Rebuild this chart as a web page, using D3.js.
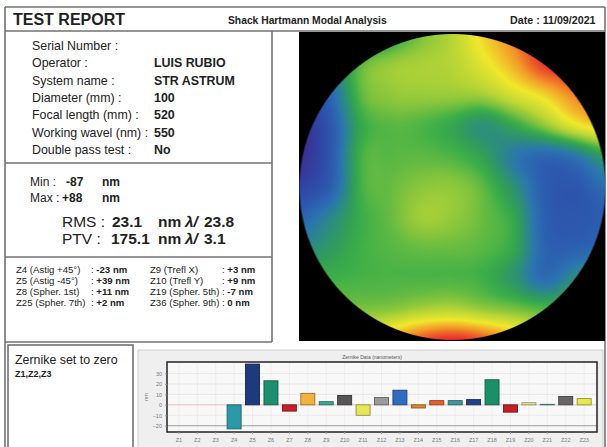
<!DOCTYPE html>
<html>
<head>
<meta charset="utf-8">
<script src="https://cdn.jsdelivr.net/npm/d3@7"></script>
<style>
body{margin:0;background:#fff;}
svg{display:block;font-family:"Liberation Sans",Arial,sans-serif;}
</style>
</head>
<body>
<script>
var W = 607, H = 447;

// report header + fields
var reportTitle = "TEST REPORT";
var reportSub = "Shack Hartmann Modal Analysis";
var reportDate = "Date : 11/09/2021";
var infoLabels = ["Serial Number :", "Operator :", "System name :", "Diameter (mm) :", "Focal length (mm) :", "Working wavel (nm) :", "Double pass test :"];
var infoValues = ["", "LUIS RUBIO", "STR ASTRUM", "100", "520", "550", "No"];

var minMax = [["Min :", "-87"], ["Max :", "+88"]];
var rmsPtv = [["RMS :", "23.1", "23.8"], ["PTV :", "175.1", "3.1"]];

var zLeft = [["Z4 (Astig +45°)", "-23 nm"], ["Z5 (Astig -45°)", "+39 nm"], ["Z8  (Spher. 1st)", "+11 nm"], ["Z25 (Spher. 7th)", "+2 nm"]];
var zRight = [["Z9  (Trefl X)", "+3 nm"], ["Z10 (Trefl Y)", "+9 nm"], ["Z19 (Spher. 5th)", "-7 nm"], ["Z36 (Spher. 9th)", "0 nm"]];
var zeroSet = "Z1,Z2,Z3";

// zernike bar chart
var zTerms = ["Z1","Z2","Z3","Z4","Z5","Z6","Z7","Z8","Z9","Z10","Z11","Z12","Z13","Z14","Z15","Z16","Z17","Z18","Z19","Z20","Z21","Z22","Z23"];
var zValues = [0, 0, 0, -23, 39, 23, -6, 11, 3, 9, -10, 7, 14, -3, 4, 4, 5, 24, -7, 2, 0.5, 8, 6];
var zColors = ["#d04040","#d04040","#d04040","#2c9aa6","#1d3a7c","#1e8f6e","#c8202a","#f2b33e","#3aa898","#555555","#e6e65a",
               "#9a9a9a","#2f6cc0","#e0892a","#e8602a","#3a9aa0","#23408a","#1a9068","#c42028","#ececa0","#5abab0","#666666","#e8e850"];
var yTicks = [-20, -10, 0, 10, 20, 30];

// wavefront map (nm), rows top->bottom, cols left->right across the pupil
var mapGrid = [
  [-60, -50, -30, -10,  12,  25,  50,  70,  88,  88,  80],
  [-70, -35,   5,  18,  22,  25,  40,  60,  85,  88,  85],
  [-80, -45,   5,  16,  18,  18,  20,  35,  50,  70,  80],
  [-85, -55,  -5,   5,   3,  -5, -18,  -5,  15,  40,  55],
  [-85, -55,   0,   5,   6,   3,  -8, -32, -45, -35, -10],
  [-70, -50,   0,   8,  15,  16,   6, -18, -50, -55, -40],
  [-45, -25,  -2,   8,  20,  17,   8,  -5, -48, -55, -50],
  [-25, -12,   0,   5,   8,   8,   5,  -5, -45, -48, -40],
  [  0,   0,   2,   3,   3,   3,   0, -15, -40, -20,   0],
  [  5,  10,  12,  15,  22,  25,  18,  12,   5,   5,   5],
  [ 20,  30,  40,  60,  80,  88,  80,  60,  30,  10,   5]
];
var mapStops = [-87, -65, -50, -35, -20, -8, 0, 12, 25, 45, 65, 88];
var mapColors = ["#3b2d8f","#2e4aa8","#2c5db0","#2b75b0","#2c8e7c","#33a055","#3daf48","#7dc23e","#b8d535","#f0e82c","#f29a28","#e82a2a"];

var svg = d3.select("body").append("svg")
    .attr("width", W)
    .attr("height", H);

var line = "#727272";

// ---------- frame ----------
var frame = svg.append("g")
    .attr("stroke", line)
    .attr("stroke-width", 1.6)
    .attr("fill", "none");
frame.append("line").attr("x1", 5).attr("y1", 7).attr("x2", 605).attr("y2", 7);
frame.append("line").attr("x1", 5).attr("y1", 7).attr("x2", 5).attr("y2", H);
frame.append("line").attr("x1", 605).attr("y1", 7).attr("x2", 605).attr("y2", H);
frame.append("line").attr("x1", 5).attr("y1", 31).attr("x2", 605).attr("y2", 31);
frame.append("line").attr("x1", 272).attr("y1", 31).attr("x2", 272).attr("y2", 342);
[163, 257, 342].forEach(function(yy){
    frame.append("line").attr("x1", 5).attr("y1", yy).attr("x2", 272).attr("y2", yy);
});
frame.append("rect").attr("x", 8).attr("y", 345).attr("width", 125).attr("height", 110);

// ---------- header ----------
svg.append("text").attr("x", 13).attr("y", 25)
    .style("font-size", "16px").style("font-weight", "bold").attr("fill", "#222")
    .text(reportTitle);
svg.append("text").attr("x", 228).attr("y", 24)
    .style("font-size", "10.3px").style("font-weight", "bold").attr("fill", "#222")
    .text(reportSub);
svg.append("text").attr("x", 510).attr("y", 24)
    .style("font-size", "10.7px").style("font-weight", "bold").attr("fill", "#222")
    .text(reportDate);

// ---------- info panel ----------
var info = svg.append("g").attr("fill", "#222").style("font-size", "12.4px");
info.selectAll("text.lab")
    .data(infoLabels)
    .enter()
    .append("text")
    .attr("class", "lab")
    .attr("x", 32)
    .attr("y", function(d, i){ return 50 + i * 17.3; })
    .text(function(d){ return d; });
info.selectAll("text.val")
    .data(infoValues)
    .enter()
    .append("text")
    .attr("class", "val")
    .attr("x", 154)
    .attr("y", function(d, i){ return 50 + i * 17.3; })
    .style("font-weight", "bold")
    .text(function(d){ return d; });

// ---------- min / max ----------
var mm = svg.append("g").attr("fill", "#222").style("font-size", "12px");
minMax.forEach(function(d, i){
    var yy = 186 + i * 16;
    mm.append("text").attr("x", 30).attr("y", yy).text(d[0]);
    mm.append("text").attr("x", i == 0 ? 66 : 62).attr("y", yy).style("font-weight", "bold").text(d[1]);
    mm.append("text").attr("x", 102).attr("y", yy).style("font-weight", "bold").text("nm");
});
var rp = svg.append("g").attr("fill", "#222").style("font-size", "15.5px");
rmsPtv.forEach(function(d, i){
    var yy = 227 + i * 17;
    rp.append("text").attr("x", 62).attr("y", yy).text(d[0]);
    rp.append("text").attr("x", i == 0 ? 112 : 111).attr("y", yy).style("font-weight", "bold").text(d[1]);
    rp.append("text").attr("x", 158).attr("y", yy).style("font-weight", "bold").text("nm");
    rp.append("text").attr("x", 185).attr("y", yy).style("font-weight", "bold").style("font-style", "italic").text("λ/");
    rp.append("text").attr("x", 204).attr("y", yy).style("font-weight", "bold").text(d[2]);
});

// ---------- zernike list ----------
var zl = svg.append("g").attr("fill", "#222").style("font-size", "9.6px").attr("xml:space", "preserve");
function zCol(data, xl, xv){
    data.forEach(function(d, i){
        var yy = 272.5 + i * 11;
        zl.append("text").attr("x", xl).attr("y", yy).text(d[0]);
        var t = zl.append("text").attr("x", xv).attr("y", yy);
        t.append("tspan").text(": ");
        t.append("tspan").style("font-weight", "bold").text(d[1]);
    });
}
zCol(zLeft, 16, 91);
zCol(zRight, 150, 222);

// ---------- zero set box ----------
svg.append("text").attr("x", 15).attr("y", 364)
    .style("font-size", "12.4px").attr("fill", "#222").text("Zernike set to zero");
svg.append("text").attr("x", 15).attr("y", 377)
    .style("font-size", "9px").style("font-weight", "bold").attr("fill", "#222").text(zeroSet);

// ---------- wavefront map ----------
svg.append("rect").attr("x", 299).attr("y", 32).attr("width", 306).attr("height", 309).attr("fill", "#000");

var cx = 452.5, cy = 187, R = 153;
var mapColor = d3.scaleLinear().domain(mapStops).range(mapColors).clamp(true);
var n = mapGrid.length - 1;
function cr(p0, p1, p2, p3, t){
    return 0.5 * ((2 * p1) + (-p0 + p2) * t + (2 * p0 - 5 * p1 + 4 * p2 - p3) * t * t + (-p0 + 3 * p1 - 3 * p2 + p3) * t * t * t);
}
function g(r, c){
    r = Math.max(0, Math.min(n, r));
    c = Math.max(0, Math.min(n, c));
    return mapGrid[r][c];
}
function sample(u, v){
    var gx = (u + 1) / 2 * n, gy = (v + 1) / 2 * n;
    var ix = Math.min(n - 1, Math.floor(gx)), iy = Math.min(n - 1, Math.floor(gy));
    var tx = gx - ix, ty = gy - iy;
    var rows = [];
    for (var k = -1; k <= 2; k++){
        rows.push(cr(g(iy + k, ix - 1), g(iy + k, ix), g(iy + k, ix + 1), g(iy + k, ix + 2), tx));
    }
    return cr(rows[0], rows[1], rows[2], rows[3], ty);
}
var size = Math.ceil(2 * R);
var canvas = document.createElement("canvas");
canvas.width = size; canvas.height = size;
var ctx = canvas.getContext("2d");
var img = ctx.createImageData(size, size);
for (var py = 0; py < size; py++){
    for (var px = 0; px < size; px++){
        var u = (px + 0.5 - R) / R, v = (py + 0.5 - R) / R;
        var dist = Math.sqrt(u * u + v * v) * R;
        var a = Math.max(0, Math.min(1, R - dist + 0.5));
        var k = (py * size + px) * 4;
        if (a <= 0){ img.data[k + 3] = 0; continue; }
        var c = d3.rgb(mapColor(sample(u, v)));
        img.data[k] = c.r; img.data[k + 1] = c.g; img.data[k + 2] = c.b; img.data[k + 3] = Math.round(a * 255);
    }
}
ctx.putImageData(img, 0, 0);
svg.append("image")
    .attr("x", cx - R).attr("y", cy - R)
    .attr("width", size).attr("height", size)
    .attr("href", canvas.toDataURL());

// ---------- zernike bar chart ----------
svg.append("rect").attr("x", 138).attr("y", 350).attr("width", 465).attr("height", 100)
    .attr("fill", "#efefef").attr("stroke", "#d0d0d0");

var px0 = 167, px1 = 597, py0 = 362, py1 = 432;
var x = d3.scaleBand().domain(zTerms).range([170, 593]).paddingInner(0.24).paddingOuter(0.1);
var y = d3.scaleLinear().domain([-26, 41]).range([py1, py0]);

svg.append("rect").attr("x", px0).attr("y", py0).attr("width", px1 - px0).attr("height", py1 - py0)
    .attr("fill", "#f8f8f8");

svg.append("g").selectAll("line")
    .data(zTerms)
    .enter()
    .append("line")
    .attr("x1", function(d){ return x(d) + x.bandwidth() / 2; })
    .attr("x2", function(d){ return x(d) + x.bandwidth() / 2; })
    .attr("y1", py0).attr("y2", py1)
    .attr("stroke", "#e6e6e6").attr("stroke-width", 0.6);

svg.append("g").selectAll("line")
    .data(yTicks)
    .enter()
    .append("line")
    .attr("x1", px0).attr("x2", px1)
    .attr("y1", function(d){ return y(d); })
    .attr("y2", function(d){ return y(d); })
    .attr("stroke", function(d){ return d == 0 ? "#e2a8a8" : (d == -20 ? "#9c9c9c" : "#e2e2e2"); })
    .attr("stroke-width", function(d){ return d == -20 ? 1 : 0.7; });

svg.append("g").selectAll("rect")
    .data(zValues)
    .enter()
    .append("rect")
    .attr("x", function(d, i){ return x(zTerms[i]); })
    .attr("width", x.bandwidth())
    .attr("y", function(d){ return y(Math.max(0, d)); })
    .attr("height", function(d){ return Math.abs(y(d) - y(0)); })
    .attr("fill", function(d, i){ return zColors[i]; })
    .attr("stroke", function(d, i){ return d3.color(zColors[i]).darker(1.3); })
    .attr("stroke-width", 0.9);

svg.append("rect").attr("x", px0).attr("y", py0).attr("width", px1 - px0).attr("height", py1 - py0)
    .attr("fill", "none").attr("stroke", "#222").attr("stroke-width", 1.5);

var yAxis = svg.append("g")
    .attr("transform", "translate(" + px0 + ",0)")
    .call(d3.axisLeft(y).tickValues(yTicks).tickSize(2).tickPadding(3));
yAxis.select(".domain").remove();
yAxis.selectAll("text").style("font-size", "5.5px").attr("fill", "#777");
yAxis.selectAll("line").attr("stroke", "#999");

var xAxis = svg.append("g")
    .attr("transform", "translate(0," + py1 + ")")
    .call(d3.axisBottom(x).tickSize(2).tickPadding(4));
xAxis.select(".domain").remove();
xAxis.selectAll("text").style("font-size", "5.5px").attr("fill", "#777");
xAxis.selectAll("line").attr("stroke", "#999");

svg.append("text")
    .attr("transform", "translate(148,397) rotate(-90)")
    .attr("text-anchor", "middle")
    .style("font-size", "5.5px").attr("fill", "#777")
    .text("nm");
svg.append("text")
    .attr("x", 372).attr("y", 359)
    .attr("text-anchor", "middle")
    .style("font-size", "5px").attr("fill", "#555")
    .text("Zernike Data (nanometers)");
</script>
</body>
</html>
